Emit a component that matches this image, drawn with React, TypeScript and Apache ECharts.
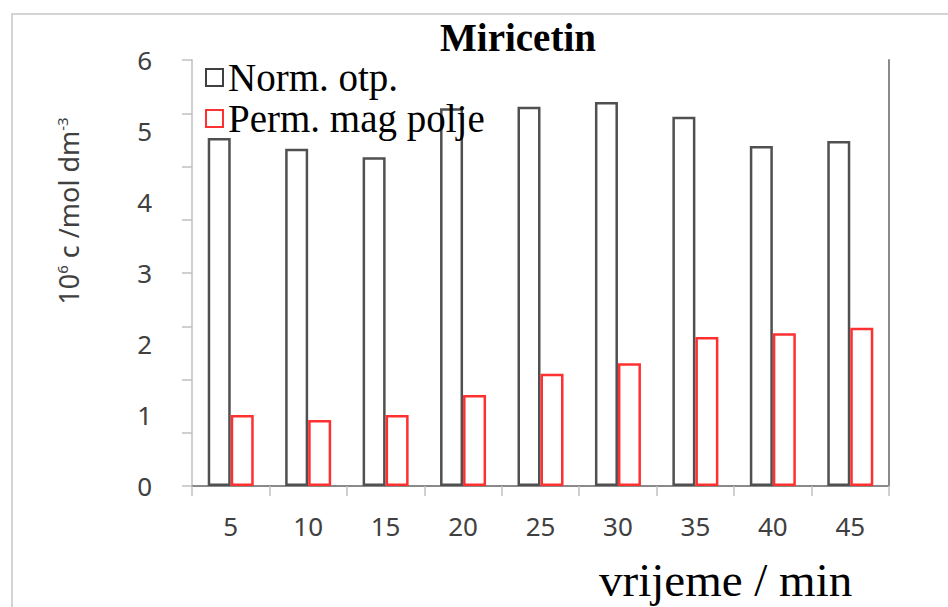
import React, { useEffect, useRef } from "react";
import * as echarts from "echarts";

const categories = ["5", "10", "15", "20", "25", "30", "35", "40", "45"];
const normOtp = [4.9, 4.75, 4.63, 5.32, 5.34, 5.41, 5.2, 4.79, 4.86];
const permMag = [1.0, 0.93, 1.0, 1.28, 1.58, 1.73, 2.1, 2.15, 2.23];
const seriesNames = ["Norm. otp.", "Perm. mag polje"];
const titleText = "Miricetin";
const xName = "vrijeme / min";

export default function App() {
  const ref = useRef<HTMLDivElement>(null);
  useEffect(() => {
    if (!ref.current) return;
    const chart = echarts.init(ref.current, null, { renderer: "svg" });
    const serif = "Liberation Serif";
    const sans = "Noto Sans";
    chart.setOption({
      animation: false,
      backgroundColor: "#ffffff",
      title: {
        text: titleText,
        left: 435,
        top: 13,
        textStyle: { fontFamily: serif, fontWeight: "bold", fontSize: 39, color: "#000" },
      },
      legend: {
        orient: "vertical",
        left: 200,
        top: 53,
        itemWidth: 17,
        itemHeight: 17,
        itemGap: 2,
        icon: "rect",
        textStyle: { fontFamily: serif, fontSize: 39, color: "#000" },
        data: [
          { name: seriesNames[0], itemStyle: { color: "#fff", borderColor: "#404040", borderWidth: 2 } },
          { name: seriesNames[1], itemStyle: { color: "#fff", borderColor: "#ff3030", borderWidth: 2 } },
        ],
      },
      grid: { left: 192, right: 59, top: 60, bottom: 121 },
      xAxis: [
        {
          type: "category",
          data: categories,
          axisLine: { lineStyle: { color: "#d0d0d0", width: 2 } },
          axisTick: { show: true, length: 10, lineStyle: { color: "#c0c0c0", width: 1.5 } },
          axisLabel: { fontFamily: sans, fontSize: 26, color: "#404040", margin: 27 },
        },
        {
          type: "category",
          data: categories,
          position: "top",
          axisLine: { lineStyle: { color: "#8a8a8a", width: 2 } },
          axisTick: { show: false },
          axisLabel: { show: false },
        },
      ],
      yAxis: [
        {
          type: "value",
          min: 0,
          max: 6,
          interval: 1,
          axisLine: { show: false },
          axisTick: { show: false },
          splitLine: { show: false },
          axisLabel: { fontFamily: sans, fontSize: 26, color: "#404040", margin: 40 },
        },
        {
          type: "value",
          min: 0,
          max: 6,
          interval: 0.75,
          position: "left",
          axisLine: { show: true, lineStyle: { color: "#d0d0d0", width: 2 } },
          axisTick: { show: true, length: 10, lineStyle: { color: "#c0c0c0", width: 1.5 } },
          axisLabel: { show: false },
          splitLine: { show: false },
        },
        {
          type: "value",
          min: 0,
          max: 6,
          position: "right",
          axisLine: { show: true, lineStyle: { color: "#8a8a8a", width: 2 } },
          axisTick: { show: false },
          axisLabel: { show: false },
          splitLine: { show: false },
        },
      ],
      series: [
        {
          name: seriesNames[0],
          type: "bar",
          data: normOtp,
          barWidth: 23,
          barGap: "0%",
          itemStyle: { color: "#ffffff", borderColor: "#505050", borderWidth: 2.5 },
        },
        {
          name: seriesNames[1],
          type: "bar",
          data: permMag,
          barWidth: 23,
          barGap: "0%",
          itemStyle: { color: "#ffffff", borderColor: "#ff3030", borderWidth: 2.5 },
        },
      ],
      graphic: [
        {
          type: "rect",
          silent: true,
          z: -1,
          shape: { x: 12, y: 14, width: 960, height: 620 },
          style: { fill: "none", stroke: "#d4d4d4", lineWidth: 2 },
        },
        {
          type: "text",
          x: 68,
          y: 211,
          rotation: Math.PI / 2,
          style: {
            text: "{a|10}{s|6}{a| c /mol dm}{s|-3}",
            align: "center",
            verticalAlign: "middle",
            fill: "#404040",
            rich: {
              a: { fontFamily: sans, fontSize: 27, fill: "#404040", verticalAlign: "bottom" },
              s: { fontFamily: sans, fontSize: 15, fill: "#404040", verticalAlign: "top" },
            },
          },
        },
        {
          type: "text",
          x: 599,
          y: 580,
          style: {
            text: xName,
            align: "left",
            verticalAlign: "middle",
            fontFamily: serif,
            fontSize: 47,
            fill: "#000",
          },
        },
      ],
    });
    return () => chart.dispose();
  }, []);
  return <div ref={ref} style={{ position: "fixed", left: 0, top: 0, width: 948, height: 607 }} />;
}
